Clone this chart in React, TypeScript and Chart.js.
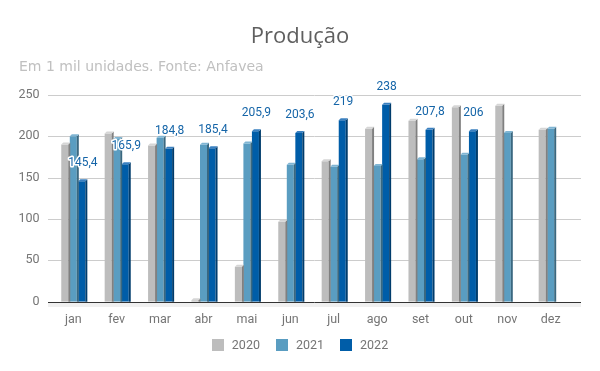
import React, { useEffect, useRef } from "react";
import { Chart, registerables } from "chart.js";

Chart.register(...registerables);

const months = ["jan", "fev", "mar", "abr", "mai", "jun", "jul", "ago", "set", "out", "nov", "dez"];
const seriesNames = ["2020", "2021", "2022"];
const values2020 = [190, 203, 188.5, 1.8, 42.3, 96.6, 169.5, 209, 218.6, 234.7, 236.7, 207.7];
const values2021 = [199.7, 196.5, 198, 189.6, 191, 165.5, 163, 164, 172, 177.5, 203.7, 209];
const values2022 = [145.4, 165.9, 184.8, 185.4, 205.9, 203.6, 219, 238, 207.8, 206, null, null];
const yTicks = [0, 50, 100, 150, 200, 250];
const titleText = "Produção";
const subtitleText = "Em 1 mil unidades. Fonte: Anfavea";

const frontColors = ["#bdbdbd", "#5a9dc1", "#005da8"];
const sideColors = ["#808080", "#3a6880", "#003c6c"];
const topColors = ["#d6d6d6", "#7fb5d3", "#3a80c0"];

const TICK_FONT = '12.5px Roboto';
const GRID_LEFT = 48;
const GRID_RIGHT = 581;

const decoPlugin = {
  id: "deco",
  beforeDatasetsDraw(chart: any) {
    const ctx = chart.ctx;
    const y = chart.scales.y;
    ctx.save();
    const base = Math.round(y.getPixelForValue(0));
    ctx.fillStyle = "#f0f0f0";
    ctx.fillRect(GRID_LEFT, base + 1, GRID_RIGHT - GRID_LEFT, 4);
    ctx.strokeStyle = "#cccccc";
    ctx.lineWidth = 1;
    for (const t of yTicks) {
      if (t === 0) continue;
      const py = Math.round(y.getPixelForValue(t)) + 0.5;
      ctx.beginPath();
      ctx.moveTo(GRID_LEFT, py);
      ctx.lineTo(GRID_RIGHT, py);
      ctx.stroke();
    }
    ctx.restore();
  },
  afterDatasetsDraw(chart: any) {
    const ctx = chart.ctx;
    const d = 2;
    ctx.save();
    chart.data.datasets.forEach((ds: any, i: number) => {
      const meta = chart.getDatasetMeta(i);
      meta.data.forEach((el: any, j: number) => {
        const v = ds.data[j];
        if (v === null || v === undefined) return;
        const { x, y, base, width } = el.getProps(["x", "y", "base", "width"], true);
        const l = x - width / 2;
        const r = x + width / 2;
        ctx.fillStyle = sideColors[i];
        ctx.beginPath();
        ctx.moveTo(r, y);
        ctx.lineTo(r + d, y - d);
        ctx.lineTo(r + d, base);
        ctx.lineTo(r, base);
        ctx.closePath();
        ctx.fill();
        ctx.fillStyle = topColors[i];
        ctx.beginPath();
        ctx.moveTo(l, y);
        ctx.lineTo(l + d, y - d);
        ctx.lineTo(r + d, y - d);
        ctx.lineTo(r, y);
        ctx.closePath();
        ctx.fill();
      });
    });
    const yb = Math.round(chart.scales.y.getPixelForValue(0)) + 0.5;
    ctx.strokeStyle = "#333333";
    ctx.lineWidth = 1;
    ctx.beginPath();
    ctx.moveTo(GRID_LEFT, yb);
    ctx.lineTo(GRID_RIGHT, yb);
    ctx.stroke();

    const meta = chart.getDatasetMeta(2);
    const ds = chart.data.datasets[2];
    ctx.font = "12px Roboto";
    ctx.textAlign = "center";
    ctx.textBaseline = "middle";
    ctx.lineJoin = "round";
    meta.data.forEach((el: any, j: number) => {
      const v = ds.data[j];
      if (v === null || v === undefined) return;
      const { x, y } = el.getProps(["x", "y"], true);
      const txt = String(v).replace(".", ",");
      ctx.strokeStyle = "#ffffff";
      ctx.lineWidth = 3;
      ctx.strokeText(txt, x + 1, y - 18);
      ctx.fillStyle = "#1565a8";
      ctx.fillText(txt, x + 1, y - 18);
    });
    ctx.restore();
  },
  afterDraw(chart: any) {
    const ctx = chart.ctx;
    ctx.save();
    ctx.font = '22px "Open Sans"';
    ctx.fillStyle = "#5f5f5f";
    ctx.textAlign = "center";
    ctx.textBaseline = "alphabetic";
    ctx.fillText(titleText, 300, 43);
    ctx.font = '14px "DejaVu Sans"';
    ctx.fillStyle = "#c0c0c0";
    ctx.textAlign = "left";
    ctx.fillText(subtitleText, 19, 71);
    ctx.font = TICK_FONT;
    const box = 12;
    const gapBoxText = 8;
    const gapItems = 16;
    const widths = seriesNames.map((s) => box + gapBoxText + ctx.measureText(s).width);
    const total = widths.reduce((a, b) => a + b, 0) + gapItems * (seriesNames.length - 1);
    let lx = 300 - total / 2;
    const ly = 345;
    seriesNames.forEach((s, i) => {
      ctx.fillStyle = frontColors[i];
      ctx.fillRect(Math.round(lx), ly - 6, box, box);
      ctx.fillStyle = "#757575";
      ctx.textBaseline = "middle";
      ctx.fillText(s, lx + box + gapBoxText, ly + 1);
      lx += widths[i] + gapItems;
    });
    ctx.restore();
  },
};

export default function App() {
  const ref = useRef<HTMLCanvasElement>(null);
  useEffect(() => {
    if (!ref.current) return;
    const chart = new Chart(ref.current, {
      type: "bar",
      data: {
        labels: months,
        datasets: [values2020, values2021, values2022].map((vals, i) => ({
          label: seriesNames[i],
          data: vals,
          backgroundColor: frontColors[i],
          borderWidth: 0,
          categoryPercentage: 0.59,
          barPercentage: 0.82,
        })),
      },
      options: {
        animation: false,
        responsive: false,
        devicePixelRatio: 1,
        layout: { padding: { top: 94.7, right: 27.6, bottom: 0, left: 0 } },
        plugins: {
          legend: { display: false },
          title: { display: false },
          tooltip: { enabled: false },
        },
        scales: {
          x: {
            grid: { display: false },
            border: { display: false },
            ticks: { color: "#757575", font: { family: "Roboto", size: 12.5 }, padding: 3 },
            afterFit: (s: any) => {
              s.height = 69.3;
            },
          },
          y: {
            min: 0,
            max: 250,
            grid: { display: false, drawTicks: false },
            border: { display: false },
            ticks: {
              stepSize: 50,
              color: "#757575",
              font: { family: "Roboto", size: 12.5 },
              padding: 12,
            },
            afterFit: (s: any) => {
              s.width = 51.6;
            },
          },
        },
      },
      plugins: [decoPlugin],
    });
    return () => chart.destroy();
  }, []);
  return (
    <div style={{ position: "absolute", left: 0, top: 0, width: 600, height: 371, background: "#fff" }}>
      <canvas ref={ref} width={600} height={371} />
    </div>
  );
}
